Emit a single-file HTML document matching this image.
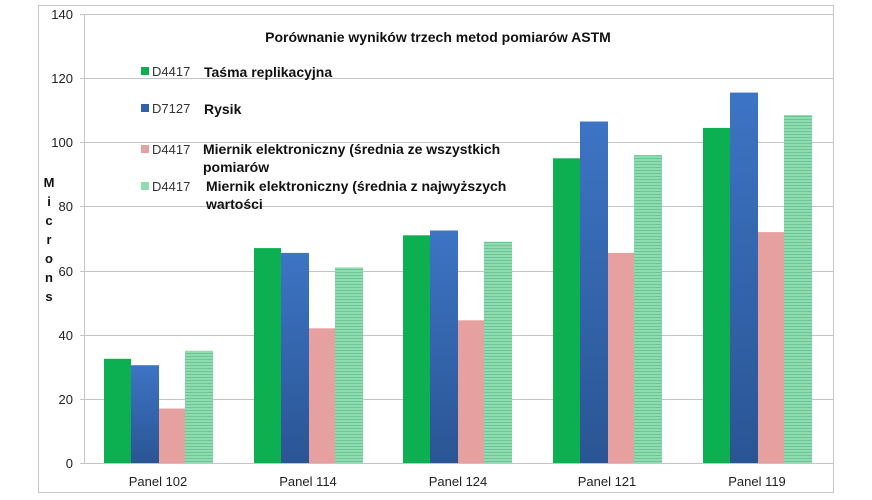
<!DOCTYPE html>
<html><head><meta charset="utf-8"><style>body{margin:0;background:#fff}svg{display:block}text{font-family:"Liberation Sans",sans-serif}</style></head><body>
<svg width="872" height="500" xmlns="http://www.w3.org/2000/svg">
<defs>
<linearGradient id="bl" x1="0" x2="0" y1="0" y2="1"><stop offset="0" stop-color="#3d74c4"/><stop offset="1" stop-color="#2a5594"/></linearGradient>
<pattern id="hz" width="4" height="3" patternUnits="userSpaceOnUse"><rect width="4" height="3" fill="#8fdcb0"/><rect y="2" width="4" height="1" fill="#6cc596"/></pattern>
</defs>
<rect x="38.5" y="5.5" width="795" height="487" fill="#fff" stroke="#c8c8c8"/>
<g stroke="#c4c4c4" stroke-width="1">
<line x1="80" x2="833" y1="14.5" y2="14.5"/><line x1="80" x2="833" y1="78.5" y2="78.5"/><line x1="80" x2="833" y1="142.5" y2="142.5"/><line x1="80" x2="833" y1="206.5" y2="206.5"/><line x1="80" x2="833" y1="271.5" y2="271.5"/><line x1="80" x2="833" y1="335.5" y2="335.5"/><line x1="80" x2="833" y1="399.5" y2="399.5"/><line x1="80" x2="833" y1="463.5" y2="463.5"/>
<line x1="84.5" x2="84.5" y1="14" y2="463"/>
</g>
<g font-size="13" fill="#222" text-anchor="end">
<text x="73" y="19">140</text><text x="73" y="83">120</text><text x="73" y="147">100</text><text x="73" y="211">80</text><text x="73" y="276">60</text><text x="73" y="340">40</text><text x="73" y="404">20</text><text x="73" y="468">0</text>
</g>
<g font-size="13" font-weight="bold" fill="#111" text-anchor="middle">
<text x="49" y="187">M</text><text x="49" y="206">i</text><text x="49" y="225">c</text><text x="49" y="244">r</text><text x="49" y="263">o</text><text x="49" y="282">n</text><text x="49" y="301">s</text>
</g>
<g>
<rect x="104" y="358.8" width="27" height="104.2" fill="#0db050"/>
<rect x="131" y="365.2" width="28" height="97.8" fill="url(#bl)"/>
<rect x="159" y="408.5" width="26" height="54.5" fill="#e7a0a0"/>
<rect x="185" y="350.8" width="28" height="112.2" fill="url(#hz)"/>

<rect x="254" y="248.1" width="27" height="214.9" fill="#0db050"/>
<rect x="281" y="252.9" width="28" height="210.1" fill="url(#bl)"/>
<rect x="309" y="328.3" width="26" height="134.7" fill="#e7a0a0"/>
<rect x="335" y="267.4" width="28" height="195.6" fill="url(#hz)"/>

<rect x="403" y="235.3" width="27" height="227.7" fill="#0db050"/>
<rect x="430" y="230.5" width="28" height="232.5" fill="url(#bl)"/>
<rect x="458" y="320.3" width="26" height="142.7" fill="#e7a0a0"/>
<rect x="484" y="241.7" width="28" height="221.3" fill="url(#hz)"/>

<rect x="553" y="158.3" width="27" height="304.7" fill="#0db050"/>
<rect x="580" y="121.5" width="28" height="341.5" fill="url(#bl)"/>
<rect x="608" y="252.9" width="26" height="210.1" fill="#e7a0a0"/>
<rect x="634" y="155.1" width="28" height="307.9" fill="url(#hz)"/>

<rect x="703" y="127.9" width="27" height="335.1" fill="#0db050"/>
<rect x="730" y="92.6" width="28" height="370.4" fill="url(#bl)"/>
<rect x="758" y="232.1" width="26" height="230.9" fill="#e7a0a0"/>
<rect x="784" y="115" width="28" height="348" fill="url(#hz)"/>
</g>
<g font-size="13" fill="#222" text-anchor="middle">
<text x="158" y="486">Panel 102</text><text x="308" y="486">Panel 114</text><text x="458" y="486">Panel 124</text><text x="607" y="486">Panel 121</text><text x="757" y="486">Panel 119</text>
</g>
<text x="438" y="42" font-size="14" font-weight="bold" text-anchor="middle" fill="#111">Porównanie wyników trzech metod pomiarów ASTM</text>
<g font-size="13" fill="#333">
<rect x="141" y="67" width="8" height="8" fill="#0db050"/><text x="152" y="76">D4417</text>
<rect x="141" y="104" width="8" height="8" fill="#2f62aa"/><text x="152" y="113">D7127</text>
<rect x="141" y="145" width="8" height="8" fill="#e7a0a0"/><text x="152" y="154">D4417</text>
<rect x="141" y="182" width="8" height="8" fill="#8fdcb0"/><text x="152" y="191">D4417</text>
</g>
<g font-size="14" font-weight="bold" fill="#111">
<text x="204" y="77">Taśma replikacyjna</text>
<text x="204" y="114">Rysik</text>
<text x="203" y="154">Miernik elektroniczny (średnia ze wszystkich</text>
<text x="203" y="172">pomiarów</text>
<text x="206" y="191">Miernik elektroniczny (średnia z najwyższych</text>
<text x="206" y="209">wartości</text>
</g>
</svg>
</body></html>
